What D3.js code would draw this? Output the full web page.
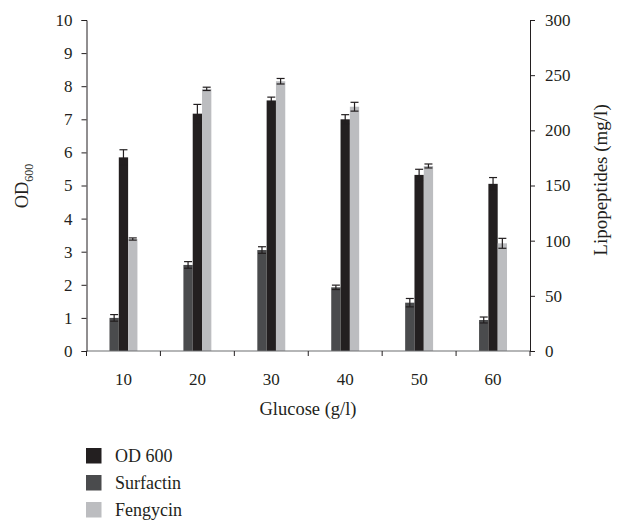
<!DOCTYPE html>
<html>
<head>
<meta charset="utf-8">
<script src="https://cdn.jsdelivr.net/npm/d3@7"></script>
<style>
  body { margin: 0; background: #fff; overflow: hidden; }
  text { font-family: "Liberation Serif", "DejaVu Serif", serif; fill: #231f20; }
</style>
</head>
<body>
<div id="chart"></div>
<script>
// glucose concentrations (g/l)
var glucose = ["10", "20", "30", "40", "50", "60"];
// OD600 (left axis)
var od600 = [5.85, 7.17, 7.57, 7.0, 5.32, 5.05];
var od600Err = [0.23, 0.28, 0.1, 0.14, 0.17, 0.19];
// lipopeptides mg/l (right axis)
var surfactin = [30, 78, 91.5, 57.7, 43.8, 28.1];
var surfactinErr = [3, 3, 3, 2, 3.8, 2.7];
var fengycin = [101.5, 237.6, 244.5, 221.4, 167.7, 97.6];
var fengycinErr = [1, 1.5, 2.5, 4, 1.8, 4.5];

var leftTicks = [0, 1, 2, 3, 4, 5, 6, 7, 8, 9, 10];
var rightTicks = [0, 50, 100, 150, 200, 250, 300];

var width = 620, height = 521;
var svg = d3.select("#chart").append("svg").attr("width", width).attr("height", height);

var x = d3.scaleBand().domain(glucose).range([86.5, 530]);
var yL = d3.scaleLinear().domain([0, 10]).range([351, 20]);
var yR = d3.scaleLinear().domain([0, 300]).range([351, 20]);
var bw = x.bandwidth() * 0.126;

// series in drawing order: surfactin, od600, fengycin
var series = [
  { name: "Surfactin", vals: surfactin, err: surfactinErr, y: yR, color: "#4a4b4d", off: -1.5 },
  { name: "OD 600", vals: od600, err: od600Err, y: yL, color: "#231f20", off: -0.5 },
  { name: "Fengycin", vals: fengycin, err: fengycinErr, y: yR, color: "#bcbdc0", off: 0.5 }
];

series.forEach(function(s) {
  var g = svg.append("g");
  var cx = function(i) { return x(glucose[i]) + x.bandwidth() / 2 + (s.off + 0.5) * bw; };
  g.selectAll("rect").data(s.vals).enter().append("rect")
    .attr("x", function(d, i) { return x(glucose[i]) + x.bandwidth() / 2 + s.off * bw; })
    .attr("y", function(d) { return s.y(d); })
    .attr("width", bw)
    .attr("height", function(d) { return s.y(0) - s.y(d); })
    .attr("fill", s.color);
  // error bars
  var eb = g.selectAll("g.err").data(s.vals).enter().append("g").attr("class", "err")
    .attr("stroke", "#231f20").attr("stroke-width", 1.2);
  eb.append("line")
    .attr("x1", function(d, i) { return cx(i); })
    .attr("x2", function(d, i) { return cx(i); })
    .attr("y1", function(d, i) { return s.y(d - s.err[i]); })
    .attr("y2", function(d, i) { return s.y(d + s.err[i]); });
  [1, -1].forEach(function(sign) {
    eb.append("line")
      .attr("x1", function(d, i) { return cx(i) - 4; })
      .attr("x2", function(d, i) { return cx(i) + 4; })
      .attr("y1", function(d, i) { return s.y(d + sign * s.err[i]); })
      .attr("y2", function(d, i) { return s.y(d + sign * s.err[i]); });
  });
});

// axes
var axisColor = "#231f20";
svg.append("line").attr("x1", 86.5).attr("x2", 530).attr("y1", 351).attr("y2", 351)
  .attr("stroke", "#6d6e70").attr("stroke-width", 1.2);
// ticks at band boundaries
svg.append("g").selectAll("line").data(glucose.concat(["end"])).enter().append("line")
  .attr("x1", function(d, i) { return 86.5 + i * x.step(); })
  .attr("x2", function(d, i) { return 86.5 + i * x.step(); })
  .attr("y1", 351).attr("y2", 356)
  .attr("stroke", axisColor).attr("stroke-width", 1);
svg.append("g").selectAll("text").data(glucose).enter().append("text")
  .attr("x", function(d) { return x(d) + x.bandwidth() / 2; })
  .attr("y", 385)
  .attr("text-anchor", "middle")
  .attr("font-size", 17)
  .text(function(d) { return d; });

var left = svg.append("g").attr("transform", "translate(86.5,0)")
  .call(d3.axisLeft(yL).tickValues(leftTicks).tickSize(5).tickPadding(9).tickFormat(d3.format("d")));
left.selectAll(".domain, .tick line").attr("stroke", axisColor);
left.selectAll("text").attr("font-size", 17).attr("font-family", "Liberation Serif").attr("fill", axisColor);

var right = svg.append("g").attr("transform", "translate(530,0)")
  .call(d3.axisRight(yR).tickValues(rightTicks).tickSize(5).tickPadding(10).tickFormat(d3.format("d")));
right.selectAll(".domain, .tick line").attr("stroke", axisColor);
right.selectAll("text").attr("font-size", 17).attr("font-family", "Liberation Serif").attr("fill", axisColor);

// axis titles
svg.append("text").attr("x", 308).attr("y", 415).attr("text-anchor", "middle")
  .attr("font-size", 18.5).text("Glucose (g/l)");
var odLabel = svg.append("text").attr("transform", "translate(28,186) rotate(-90)")
  .attr("text-anchor", "middle").attr("font-size", 18.5);
odLabel.append("tspan").text("OD");
odLabel.append("tspan").attr("font-size", 12).attr("dy", 5).text("600");
svg.append("text").attr("transform", "translate(607,180) rotate(-90)")
  .attr("text-anchor", "middle").attr("font-size", 19).text("Lipopeptides (mg/l)");

// legend
var legendItems = [series[1], series[0], series[2]];
var lg = svg.append("g").selectAll("g").data(legendItems).enter().append("g")
  .attr("transform", function(d, i) { return "translate(86," + (448 + i * 27) + ")"; });
lg.append("rect").attr("width", 15.5).attr("height", 15.5).attr("fill", function(d) { return d.color; });
lg.append("text").attr("x", 29).attr("y", 14).attr("font-size", 18).text(function(d) { return d.name; });
</script>
</body>
</html>
